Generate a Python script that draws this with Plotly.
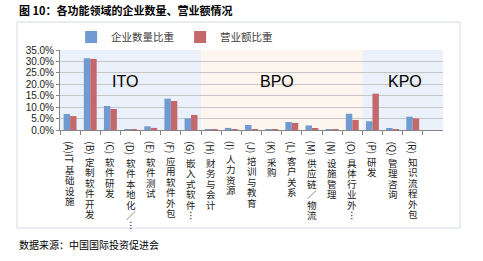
import re
import plotly.graph_objects as go

# ---- data ----
categories = ["(A)IT基础设施", "(B)定制软件开发", "(C)软件研发", "(D)软件本地化/…", "(E)软件测试",
              "(F)应用软件外包", "(G)嵌入式软件…", "(H)财务与会计", "(I)人力资源", "(J)培训与教育",
              "(K)采购", "(L)客户关系", "(M)供应链/物流", "(N)设施管理", "(O)具体行业外…",
              "(P)研发", "(Q)管理咨询", "(R)知识流程外包"]
enterprise_share = [7.0, 31.4, 10.5, 0.3, 1.6, 13.7, 5.1, 0.4, 0.9, 2.2, 0.2, 3.5, 2.0, 0.4, 7.1, 3.8, 0.7, 5.8]
revenue_share = [6.1, 31.1, 9.2, 0.1, 0.9, 12.7, 6.6, 0.2, 0.4, 0.4, 0.1, 3.1, 0.6, 0.4, 4.4, 15.9, 0.3, 5.1]
groups = ["ITO", "BPO", "KPO"]
group_sizes = [7, 8, 4]          # KPO band includes one empty slot
series_names = ["企业数量比重", "营业额比重"]
title_text = "图 10：各功能领域的企业数量、营业额情况"
source_text = "数据来源：中国国际投资促进会"

# ---- style ----
BLUE = "#6f9bd2"
RED = "#c4686b"
BAND_COLORS = ["#eaf1fa", "#fdf6ee", "#eaf1fa"]
GROUP_LABEL_X = [2.7, 10.25, 16.6]
CJK = "Noto Sans CJK SC"
LAT = "Liberation Sans"

fig = go.Figure()
fig.add_trace(go.Bar(x=categories, y=[v / 100 for v in enterprise_share], name=series_names[0],
                     marker=dict(color=BLUE, line=dict(width=0))))
fig.add_trace(go.Bar(x=categories, y=[v / 100 for v in revenue_share], name=series_names[1],
                     marker=dict(color=RED, line=dict(width=0))))

n_slots = sum(group_sizes)
shapes = []
annotations = []
start = -0.5
for g, size, col, lx in zip(groups, group_sizes, BAND_COLORS, GROUP_LABEL_X):
    shapes.append(dict(type="rect", xref="x", yref="paper", x0=start, x1=start + size, y0=0, y1=1,
                       fillcolor=col, line=dict(width=0), layer="below"))
    annotations.append(dict(text=g, xref="x", yref="y", x=lx, y=0.214, showarrow=False,
                            font=dict(family=LAT, size=16, color="#000000")))
    start += size

# chart frame
shapes.append(dict(type="rect", xref="paper", yref="paper", x0=-0.1123, x1=1.0444, y0=-1.225, y1=1.35,
                   line=dict(color="#d3dae5", width=1), fillcolor="rgba(0,0,0,0)", layer="below"))

# vertical category labels
wid = {"(": 3.1, ")": 3.1, "I": 2.8, "T": 5.4, "A": 5.6, "B": 6.0, "C": 5.8, "D": 6.3, "E": 5.3,
       "F": 5.0, "G": 6.3, "H": 6.5, "J": 4.6, "K": 5.9, "L": 4.8, "M": 7.2, "N": 6.5, "O": 6.8,
       "P": 5.8, "Q": 6.8, "R": 5.9}
for c in categories:
    m = re.match(r"^[\x20-\x7e]+", c)
    prefix = m.group(0)
    body = c[len(prefix):].replace("…", "︙").replace("/", "／")
    plen = sum(wid.get(ch, 5.5) for ch in prefix)
    annotations.append(dict(text=prefix, xref="x", yref="paper", x=c, y=0, yanchor="top", xanchor="center",
                            yshift=-10, textangle=90, showarrow=False, borderpad=0,
                            font=dict(family=CJK, size=10, color="#1a1a1a")))
    stacked = "<br>".join('<span style="font-size:9.5px">%s</span>' % ch for ch in body)
    annotations.append(dict(text=stacked, xref="x", yref="paper", x=c, y=0, yanchor="top", xanchor="center",
                            yshift=-(10 + plen + 2), showarrow=False, borderpad=0,
                            font=dict(family=CJK, size=8, color="#1a1a1a")))

annotations.append(dict(text="<b>%s</b>" % title_text, xref="paper", yref="paper", x=-0.1123, y=1.5,
                        xanchor="left", yanchor="middle", showarrow=False,
                        font=dict(family=CJK, size=11, color="#000000")))
annotations.append(dict(text=source_text, xref="paper", yref="paper", x=-0.1123, y=-1.425,
                        xanchor="left", yanchor="middle", showarrow=False,
                        font=dict(family=CJK, size=10, color="#000000")))

fig.update_layout(
    width=483, height=261,
    margin=dict(l=60, r=40, t=50, b=131, pad=0),
    paper_bgcolor="white", plot_bgcolor="rgba(0,0,0,0)",
    barmode="group", bargap=0.36, bargroupgap=0,
    showlegend=True,
    legend=dict(orientation="h", x=0.029, y=1.1625, xanchor="left", yanchor="middle",
                font=dict(family=CJK, size=10.5, color="#404040"), bgcolor="rgba(0,0,0,0)",
                itemwidth=30, entrywidth=64, entrywidthmode="pixels", tracegroupgap=0),
    shapes=shapes, annotations=annotations,
    xaxis=dict(type="category", range=[-0.5, n_slots - 0.5], showticklabels=False,
               ticks="outside", tickson="boundaries", ticklen=4, tickcolor="#868686",
               showline=True, linecolor="#868686", linewidth=1, showgrid=False, zeroline=False,
               fixedrange=True),
    yaxis=dict(range=[0, 0.35], dtick=0.05, tickformat=".1%", ticks="outside", ticklen=3,
               tickcolor="#868686", showline=True, linecolor="#868686", linewidth=1,
               showgrid=True, gridcolor="#c6c6c6", gridwidth=1, zeroline=False,
               tickfont=dict(family=LAT, size=10, color="#222222"), fixedrange=True),
)

fig.write_html("out.html")
